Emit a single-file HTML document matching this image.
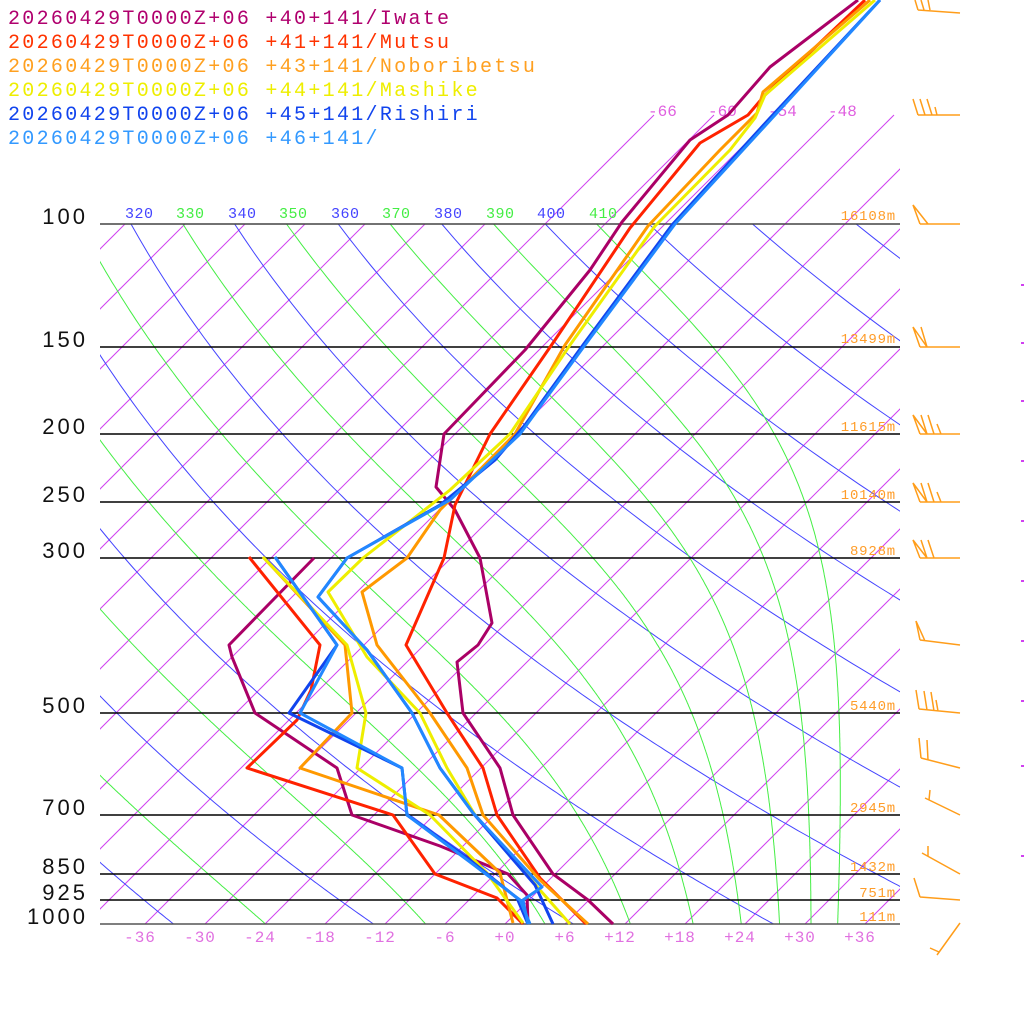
<!DOCTYPE html>
<html><head><meta charset="utf-8"><style>
html,body{margin:0;padding:0;background:#fff;}
svg{display:block;}
.mono{font-family:"Liberation Mono",monospace;}
</style></head><body>
<svg id="s" width="1024" height="1024" viewBox="0 0 1024 1024" xmlns="http://www.w3.org/2000/svg">
<defs>
<clipPath id="cp"><rect x="100" y="0" width="800" height="924"/></clipPath>
<clipPath id="cp2"><rect x="100" y="224" width="800" height="700"/></clipPath>
<clipPath id="cp3"><rect x="100" y="190" width="800" height="40"/></clipPath>
</defs>
<rect width="1024" height="1024" fill="#fff"/>
<g id="iso" clip-path="url(#cp)" stroke="#d040f0" stroke-width="1"></g>
<g id="adi" clip-path="url(#cp2)" fill="none" stroke-width="1"></g>
<g stroke="#000" stroke-width="1.5">
<line x1="100" y1="224" x2="900" y2="224" stroke="#444"/>
<line x1="100" y1="347" x2="900" y2="347"/>
<line x1="100" y1="434" x2="900" y2="434"/>
<line x1="100" y1="502" x2="900" y2="502"/>
<line x1="100" y1="558" x2="900" y2="558"/>
<line x1="100" y1="713" x2="900" y2="713"/>
<line x1="100" y1="815" x2="900" y2="815"/>
<line x1="100" y1="874" x2="900" y2="874"/>
<line x1="100" y1="900" x2="900" y2="900"/>
<line x1="100" y1="924" x2="900" y2="924" stroke="#555"/>
</g>
<g font-family="Liberation Sans, sans-serif" font-size="22" fill="#111" text-anchor="end" letter-spacing="3">
<text x="88" y="224">100</text><text x="88" y="347">150</text><text x="88" y="434">200</text>
<text x="88" y="502">250</text><text x="88" y="558">300</text><text x="88" y="713">500</text>
<text x="88" y="815">700</text><text x="88" y="874">850</text><text x="88" y="900">925</text>
<text x="88" y="924">1000</text>
</g>
<g class="mono" font-size="14" fill="#ff9d2a" text-anchor="end" letter-spacing="0.8">
<text x="896" y="220">16108m</text><text x="896" y="343">13499m</text><text x="896" y="431">11615m</text>
<text x="896" y="499">10140m</text><text x="896" y="555">8928m</text><text x="896" y="710">5440m</text>
<text x="896" y="812">2945m</text><text x="896" y="871">1432m</text><text x="896" y="897">751m</text>
<text x="896" y="921">111m</text>
</g>
<g class="mono" font-size="15" letter-spacing="0.5">
<text x="91" y="218" fill="#44ee44" clip-path="url(#cp3)">0</text>
<text x="125" y="218" fill="#4444ff">320</text><text x="176" y="218" fill="#44ee44">330</text>
<text x="228" y="218" fill="#4444ff">340</text><text x="279" y="218" fill="#44ee44">350</text>
<text x="331" y="218" fill="#4444ff">360</text><text x="382" y="218" fill="#44ee44">370</text>
<text x="434" y="218" fill="#4444ff">380</text><text x="486" y="218" fill="#44ee44">390</text>
<text x="537" y="218" fill="#4444ff">400</text><text x="589" y="218" fill="#44ee44">410</text>
</g>
<g class="mono" font-size="16" fill="#e060e0">
<text x="648" y="116">-66</text><text x="708" y="116">-60</text><text x="768" y="116">-54</text><text x="828" y="116">-48</text>
</g>
<g class="mono" font-size="16" fill="#e070e0" text-anchor="middle" letter-spacing="1">
<text x="140" y="942">-36</text><text x="200" y="942">-30</text><text x="260" y="942">-24</text>
<text x="320" y="942">-18</text><text x="380" y="942">-12</text><text x="445" y="942">-6</text>
<text x="505" y="942">+0</text><text x="565" y="942">+6</text><text x="620" y="942">+12</text>
<text x="680" y="942">+18</text><text x="740" y="942">+24</text><text x="800" y="942">+30</text>
<text x="860" y="942">+36</text>
</g>
<g fill="none" stroke-width="3" stroke-linejoin="round">
<polyline stroke="#aa0066" points="858,0 770,67 728,115 690,140 622,222 590,270 525,350 444,434 436,487 455,510 480,558 492,623 478,645 457,662 463,713 500,768 513,815 553,874 588,900 613,924"/>
<polyline stroke="#aa0066" points="314,558 229,645 232,657 255,713 337,768 352,815 440,846 508,874 527,895 528,924"/>
<polyline stroke="#ff2200" points="865,0 765,95 748,115 700,143 630,228 555,340 490,434 455,505 444,558 406,645 447,713 483,768 497,815 540,878 586,924"/>
<polyline stroke="#ff2200" points="249,557 320,645 311,690 297,720 247,768 393,815 435,874 497,898 523,924"/>
<polyline stroke="#ff9900" points="870,0 763,92 757,113 720,150 648,226 565,345 515,434 440,510 407,558 362,592 377,645 430,713 467,768 483,815 540,880 588,924"/>
<polyline stroke="#ff9900" points="263,557 345,645 352,713 300,768 439,815 500,873 513,923"/>
<polyline stroke="#eeee00" points="875,0 765,95 755,118 730,150 655,226 570,345 510,434 450,490 363,558 328,592 367,657 420,713 447,768 475,815 540,890 570,924"/>
<polyline stroke="#eeee00" points="263,557 347,645 366,713 357,768 430,815 487,873 523,923"/>
<polyline stroke="#1144ee" points="880,0 770,118 672,225 583,345 525,425 495,460 440,505 347,558 318,597 367,650 412,713 440,768 473,813 535,885 553,924"/>
<polyline stroke="#1144ee" points="275,557 337,645 289,713 402,768 407,815 470,860 517,898 528,924"/>
<polyline stroke="#2288ff" points="880,0 775,115 675,224 585,345 520,434 450,500 347,558 318,597 367,650 412,713 440,768 473,813 542,887 523,900 528,924"/>
<polyline stroke="#2288ff" points="275,557 337,645 300,713 402,768 407,815 470,862 520,900 530,924"/>
</g>
<g fill="none" stroke="#ff9d1a" stroke-width="1.5">
<path d="M918,10 L960,13 M918,10 L915,0 M924,10 L921,0 M930,10 L928,0"/>
<path d="M918,115 L960,115 M918,115 L913,99 M925,115 L920,99 M932,115 L927,99 M937,115 L935,107"/>
<path d="M920,224 L960,224 M920,224 L913,205 L928,224"/>
<path d="M920,347 L960,347 M920,347 L913,327 L927,347 M927,347 L921,327"/>
<path d="M920,434 L960,434 M920,434 L913,415 L927,434 M927,434 L921,415 M934,434 L928,415 M941,434 L937,424"/>
<path d="M920,502 L960,502 M920,502 L913,483 L927,502 M927,502 L921,483 M934,502 L928,483 M941,502 L937,492"/>
<path d="M920,558 L960,558 M920,558 L913,540 L927,558 M927,558 L921,540 M934,558 L928,540"/>
<path d="M920,640 L960,645 M920,640 L916,621 L925,641"/>
<path d="M919,709 L960,713 M919,709 L916,690 M927,710 L924,691 M934,711 L931,692 M938,711 L936,700"/>
<path d="M921,758 L960,768 M921,758 L919,738 M928,760 L927,740"/>
<path d="M925,798 L960,815 M929,800 L930,790"/>
<path d="M922,853 L960,874 M928,856 L928,846"/>
<path d="M920,897 L960,900 M920,897 L914,878"/>
<path d="M960,923 L937,955 M930,948 L939,952"/>
</g>
<g fill="#d040f0">
<rect x="1021" y="284" width="3" height="2"/><rect x="1021" y="342" width="3" height="2"/>
<rect x="1021" y="400" width="3" height="2"/><rect x="1021" y="460" width="3" height="2"/>
<rect x="1021" y="520" width="3" height="2"/><rect x="1021" y="580" width="3" height="2"/>
<rect x="1021" y="640" width="3" height="2"/><rect x="1021" y="700" width="3" height="2"/>
<rect x="1021" y="765" width="3" height="2"/><rect x="1021" y="855" width="3" height="2"/>
</g>
<g class="mono" font-size="20" letter-spacing="2.3">
<text x="8" y="24" fill="#b0006e">20260429T0000Z+06 +40+141/Iwate</text>
<text x="8" y="48" fill="#ff3300">20260429T0000Z+06 +41+141/Mutsu</text>
<text x="8" y="72" fill="#ffa020">20260429T0000Z+06 +43+141/Noboribetsu</text>
<text x="8" y="96" fill="#eeee00">20260429T0000Z+06 +44+141/Mashike</text>
<text x="8" y="120" fill="#1144ee">20260429T0000Z+06 +45+141/Rishiri</text>
<text x="8" y="144" fill="#3399ff">20260429T0000Z+06 +46+141/</text>
</g>
</svg>
<script>
(function(){
var NS="http://www.w3.org/2000/svg";
function Y(p){return 924-304*Math.log(1000/p);}
function X(T,y){return 505+10*T+(924-y);}
var iso=document.getElementById("iso");
for(var T=-150;T<=42;T+=6){
  var ytop=(T>=-66)?115:224;
  var l=document.createElementNS(NS,"line");
  l.setAttribute("x1",X(T,924));l.setAttribute("y1",924);
  l.setAttribute("x2",X(T,ytop));l.setAttribute("y2",ytop);
  iso.appendChild(l);
}
var adi=document.getElementById("adi");
function add(pts,c){
  var pl=document.createElementNS(NS,"polyline");
  pl.setAttribute("points",pts.join(" "));
  pl.setAttribute("stroke",c);
  adi.appendChild(pl);
}
/* dry adiabats (blue) */
for(var th=220;th<=480;th+=20){
  var pts=[];
  for(var p=90;p<=1001;p+=5){
    var y=Y(p),Tc=th*Math.pow(p/1000,0.2857)-273.15;
    pts.push(X(Tc,y).toFixed(1)+","+y.toFixed(1));
  }
  add(pts,"#4444ff");
}
/* moist adiabats (green) */
for(var th=210;th<=410;th+=20){
  var p=95,Tk=th*Math.pow(p/1000,0.2857),pts=[];
  while(p<=1000){
    var y=Y(p),Tc=Tk-273.15;
    pts.push(X(Tc,y).toFixed(1)+","+y.toFixed(1));
    var es=6.112*Math.exp(17.67*Tc/(Tc+243.5));
    var rs=0.622*es/Math.max(p-es,1);
    var dTdp=(287*Tk+2.5e6*rs)/(p*(1004+2.5e6*2.5e6*rs*0.622/(287*Tk*Tk)));
    var dp=2;Tk+=dTdp*dp;p+=dp;
  }
  add(pts,"#44ee44");
}
})();
</script>
</body></html>
